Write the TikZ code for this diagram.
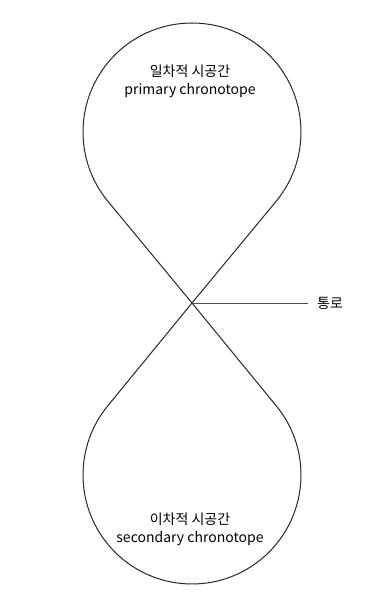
\documentclass[tikz,border=0pt]{standalone}
\usepackage{fontspec}
\setmainfont{Noto Sans CJK KR}
\usetikzlibrary{calc}
\begin{document}
\begin{tikzpicture}[x=1pt,y=1pt,
  loop/.style={black!85,line width=1pt,line join=round},
  lead/.style={black!70,line width=0.6pt},
  caption/.style={align=center,font=\fontsize{14}{18}\selectfont,inner sep=0pt}]
\useasboundingbox (0,0) rectangle (376,597);
\def\rad{109}
\coordinate (upper) at (192,465);
\coordinate (lower) at (192,122);
\coordinate (cross) at (192,294);
\pgfmathsetmacro\tang{acos(\rad/171.5)}
% figure eight: two round loops joined by tangents through the crossing
\draw[loop] (cross) -- ($(upper)+(-90+\tang:\rad)$)
  arc[start angle=-90+\tang, end angle=270-\tang, radius=\rad] -- (cross)
  -- ($(lower)+(90-\tang:\rad)$)
  arc[start angle=90-\tang, end angle=-270+\tang, radius=\rad] -- cycle;
\node[caption] (primary) at (190,516) {일차적 시공간\\primary chronotope};
\node[caption] (secondary) at (190,68) {이차적 시공간\\secondary chronotope};
\node[caption,anchor=west] (passage) at (317,294) {통로};
\draw[lead] (cross) -- ([xshift=-9pt]passage.west);
\end{tikzpicture}
\end{document}
